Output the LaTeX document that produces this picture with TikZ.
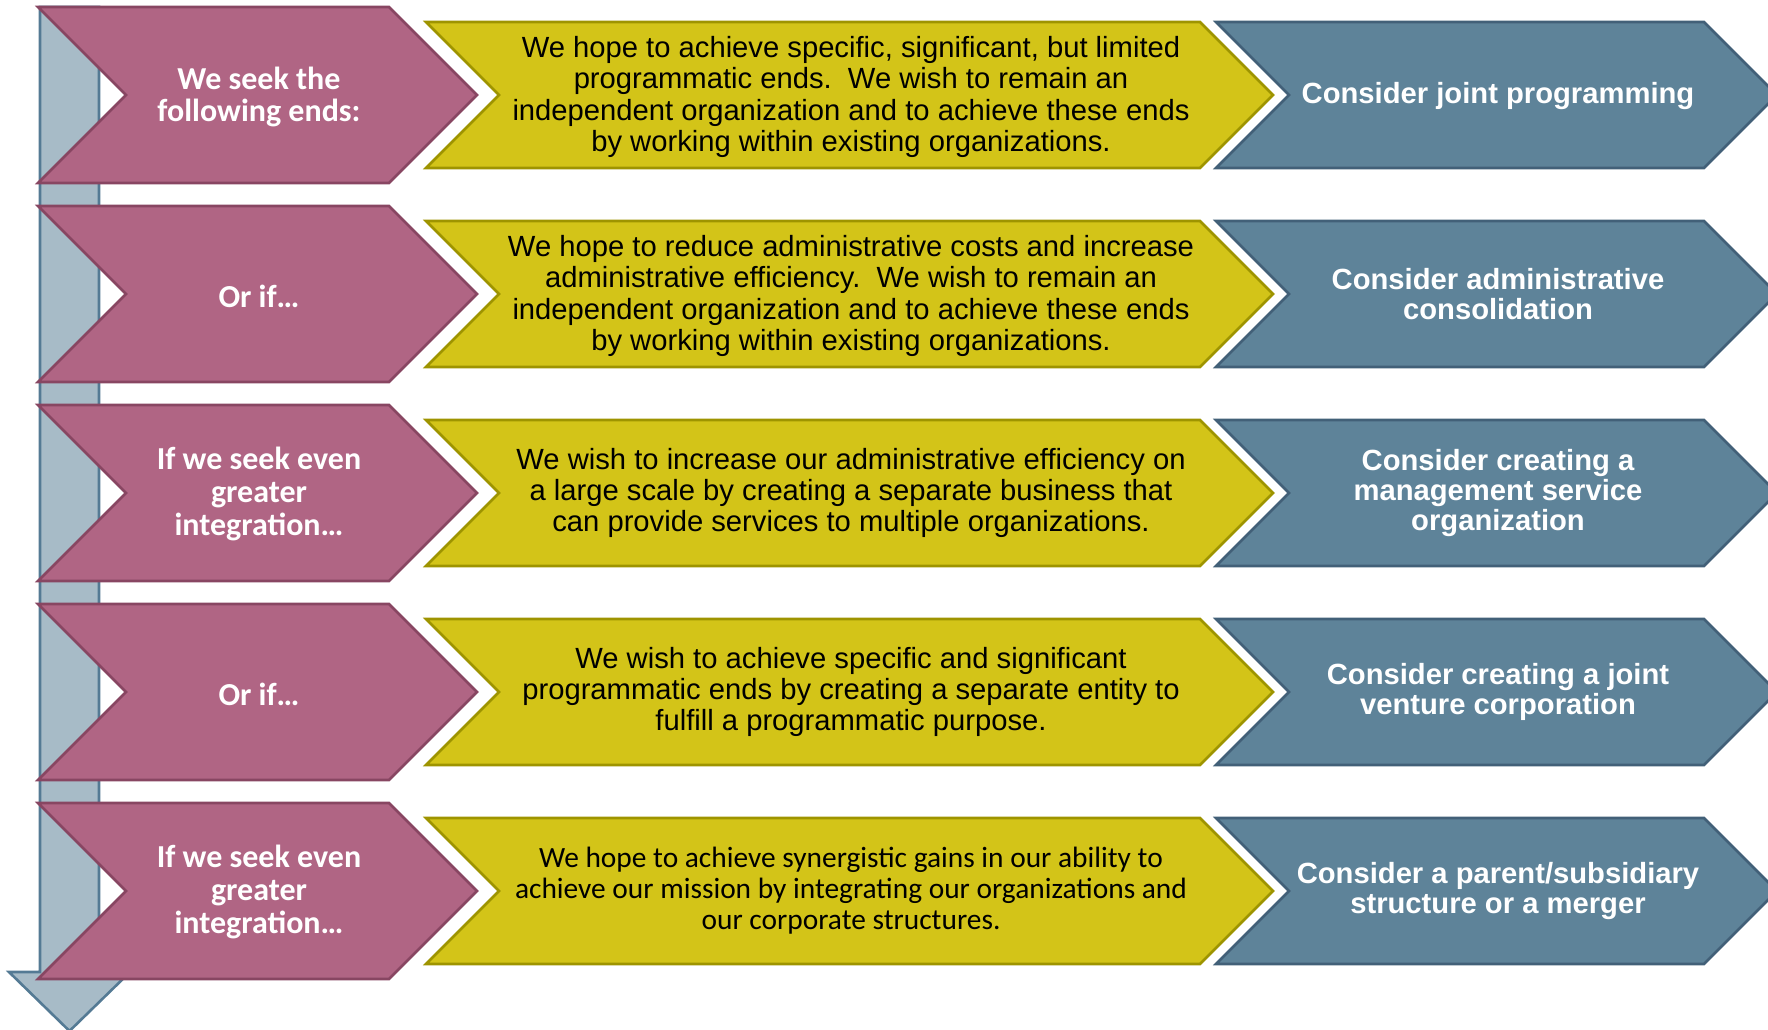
\documentclass[tikz,border=0pt]{standalone}
\usepackage{fontspec}
\newfontfamily\calibri{Carlito}
\newfontfamily\arialf{Liberation Sans}
\definecolor{pinkf}{RGB}{176,101,132}
\definecolor{pinkd}{RGB}{136,70,98}
\definecolor{yelf}{RGB}{211,196,24}
\definecolor{yeld}{RGB}{158,148,0}
\definecolor{bluef}{RGB}{94,131,153}
\definecolor{blued}{RGB}{66,96,120}
\definecolor{barf}{RGB}{167,187,199}
\definecolor{bard}{RGB}{84,122,148}
\newcommand{\chev}[5]{% style, xl, xr, yc, h
  \path[#1] (#2,#4-#5) -- (#3,#4-#5) -- (#3+#5,#4) -- (#3,#4+#5) -- (#2,#4+#5) -- (#2+#5,#4) -- cycle;}
\begin{document}
\begin{tikzpicture}[x=0.5pt,y=-0.5pt,
  pinkbox/.style={fill=pinkf,draw=pinkd,line width=1.3pt,line join=miter},
  yelbox/.style={fill=yelf,draw=yeld,line width=1.3pt,line join=miter},
  bluebox/.style={fill=bluef,draw=blued,line width=1.3pt,line join=miter},
  bararrow/.style={fill=barf,draw=bard,line width=1.3pt,line join=miter},
  pinktxt/.style={text=white,align=center,font=\calibri\bfseries\fontsize{16}{16.4}\selectfont,inner sep=0pt},
  yeltxt/.style={text=black,align=center,font=\arialf\fontsize{14.6}{15.6}\selectfont,inner sep=0pt},
  yeltxtc/.style={text=black,align=center,font=\calibri\fontsize{14.7}{15.5}\selectfont,inner sep=0pt},
  bluetxt/.style={text=white,align=center,font=\arialf\bfseries\fontsize{14.6}{15}\selectfont,inner sep=0pt}]
\useasboundingbox (0,0) rectangle (1768,1029);
% vertical arrow
\path[bararrow] (40,7) -- (99,7) -- (99,972) -- (130,972) -- (69.5,1031) -- (9,972) -- (40,972) -- cycle;
% rows
\foreach \i in {0,...,4}{
  \pgfmathsetmacro{\yc}{95+199*\i}
  \chev{pinkbox}{38}{389}{\yc}{88}
  \chev{yelbox}{426}{1200}{\yc}{73}
  \chev{bluebox}{1216}{1704}{\yc}{73}
}
% row 1
\node[pinktxt] (p1) at (259,97) {We seek the\\following ends:};
\node[yeltxt] (y1) at (851,97) {We hope to achieve specific, significant, but limited\\programmatic ends.\ \ We wish to remain an\\independent organization and to achieve these ends\\by working within existing organizations.};
\node[bluetxt] (b1) at (1498,96) {Consider joint programming};
% row 2
\node[pinktxt] (p2) at (259,296) {Or if…};
\node[yeltxt] (y2) at (851,296) {We hope to reduce administrative costs and increase\\administrative efficiency.\ \ We wish to remain an\\independent organization and to achieve these ends\\by working within existing organizations.};
\node[bluetxt] (b2) at (1498,294) {Consider administrative\\consolidation};
% row 3
\node[pinktxt] (p3) at (259,494) {If we seek even\\greater\\integration…};
\node[yeltxt] (y3) at (851,493) {We wish to increase our administrative efficiency on\\a large scale by creating a separate business that\\can provide services to multiple organizations.};
\node[bluetxt] (b3) at (1498,493) {Consider creating a\\management service\\organization};
% row 4
\node[pinktxt] (p4) at (259,694) {Or if…};
\node[yeltxt] (y4) at (851,692) {We wish to achieve specific and significant\\programmatic ends by creating a separate entity to\\fulfill a programmatic purpose.};
\node[bluetxt] (b4) at (1498,692) {Consider creating a joint\\venture corporation};
% row 5
\node[pinktxt] (p5) at (259,892) {If we seek even\\greater\\integration…};
\node[yeltxtc] (y5) at (851,891) {We hope to achieve synergistic gains in our ability to\\achieve our mission by integrating our organizations and\\our corporate structures.};
\node[bluetxt] (b5) at (1498,891) {Consider a parent/subsidiary\\structure or a merger};
\end{tikzpicture}
\end{document}
